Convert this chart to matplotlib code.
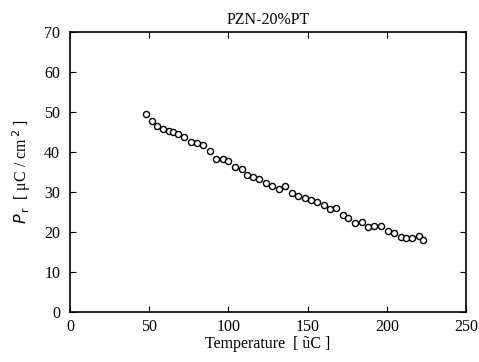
import matplotlib
matplotlib.use("Agg")
import matplotlib.pyplot as plt

temperature = [48.0, 51.6, 55.1, 58.9, 62.5, 65.2, 68.4, 72.0, 76.2, 80.0,
               84.2, 88.4, 92.2, 96.4, 99.9, 104.2, 108.4, 111.9, 115.7, 119.5,
               123.7, 127.5, 131.8, 135.7, 140.0, 144.1, 148.4, 152.1, 156.1, 160.4,
               164.1, 167.9, 172.5, 175.7, 179.9, 184.2, 188.3, 191.9, 196.1, 200.9,
               204.5, 208.8, 212.1, 215.7, 220.5, 222.7]
pr = [49.4, 47.75, 46.4, 45.6, 45.25, 44.9, 44.35, 43.6, 42.5, 42.1,
      41.7, 40.25, 38.1, 38.25, 37.75, 36.25, 35.6, 34.1, 33.6, 33.1,
      32.1, 31.4, 30.75, 31.4, 29.6, 28.9, 28.35, 27.9, 27.5, 26.7,
      25.6, 25.85, 24.2, 23.35, 22.25, 22.35, 21.1, 21.4, 21.4, 20.2,
      19.6, 18.6, 18.35, 18.35, 18.9, 17.9]
xticks = [0, 50, 100, 150, 200, 250]
yticks = [0, 10, 20, 30, 40, 50, 60, 70]

plt.rcParams['font.family'] = ['Liberation Serif', 'DejaVu Serif']
fig = plt.figure(figsize=(4.79, 3.62), dpi=100)
ax = fig.add_axes([0.146, 0.139, 0.827, 0.773])
ax.plot(temperature, pr, linestyle='none', marker='o', markersize=4.4,
        markerfacecolor='white', markeredgecolor='black', markeredgewidth=1.0)
ax.set_xlim(0, 250)
ax.set_ylim(0, 70)
ax.set_xticks(xticks)
ax.set_yticks(yticks)
ax.tick_params(axis='both', direction='in', top=True, right=True, length=4,
               width=0.8, labelsize=11.5)
ax.tick_params(axis='y', pad=7)
ax.tick_params(axis='x', pad=5)
for s in ax.spines.values():
    s.set_linewidth(1.2)
ax.set_title('PZN-20%PT', fontsize=11.5, pad=6)
ax.set_xlabel('Temperature  [ ũC ]', fontsize=11.5, labelpad=1)
ax.set_ylabel(r'$P_{\,\mathrm{r}}$  [ μC / cm$^{\,2}$ ]', fontsize=11.5, labelpad=8)
fig.savefig('out.png', dpi=100)
